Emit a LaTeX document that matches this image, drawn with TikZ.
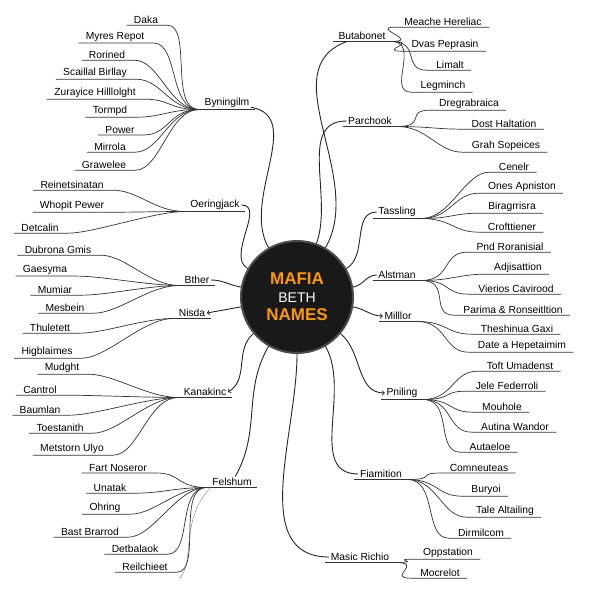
\documentclass[tikz,border=0pt]{standalone}
\usepackage{fontspec}
\setmainfont{Liberation Sans}
\begin{document}
\begin{tikzpicture}[x=1pt,y=-1pt,
  leaf/.style={inner sep=1.2pt,font=\fontsize{10.3}{11}\selectfont},
  br/.style={inner sep=1.5pt,font=\fontsize{10.3}{11}\selectfont},
  con/.style={line width=0.9pt,black!85},
  lc/.style={line width=0.7pt,black!80}]
\useasboundingbox (0,0) rectangle (600,600);
\fill[white] (0,0) rectangle (600,600);
% branches
\foreach \n/\t/\x/\y in {b1/Byningilm/227/103,b2/Oeringjack/215/205,b3/Bther/197/280,b4/Nisda/192/313,b5/Kanakinc/205/392,b6/Felshum/232/482,
  r1/Butabonet/362/36,r2/Parchook/370/121,r3/Tassling/397/212,r4/Alstman/397/275,r5/Milllor/398/316,r6/Pniling/402/393,r7/Fiamition/381/474,r8/Masic Richio/360/557}
  {\node[br] (\n) at (\x,\y) {\t}; \draw[lc] ([xshift=-4pt]\n.south west)--([xshift=4pt]\n.south east);}
\node[circle,fill=black!90,draw=black!70,line width=2pt,minimum size=112pt,inner sep=0pt,align=center,font=\bfseries\fontsize{17}{19}\selectfont] (c) at (297,297)
 {\textcolor{orange!80!yellow}{MAFIA}\\[-1pt]{\color{white}\mdseries\fontsize{14}{16}\selectfont BETH}\\[-1pt]\textcolor{orange!80!yellow}{NAMES}};
% center connectors
\foreach \n/\o/\i in {b1/120/-10,b2/150/0,b3/170/0,b6/240/60,r1/60/200,r2/70/180,r3/30/180,r4/10/180,r7/300/180,r8/270/180}
   {\draw[con] (c) to[out=\o,in=\i] (\n);}
\draw[con,->] (c) to[out=190,in=10] (b4.east);
\draw[con,->] (c) to[out=220,in=30] (b5.east);
\draw[con,->] (c) to[out=350,in=180] (r5.west);
\draw[con,->] (c) to[out=320,in=180] (r6.west);
\draw[gray,->] (b6.south west) .. controls (180,520) and (195,560) .. (180,578);
% left leaves
\foreach \t/\x/\y/\b in {Daka/146/20/b1,Myres Repot/115/37/b1,Rorined/107/55/b1,Scaillal Birllay/95/73/b1,Zurayice Hilllolght/95/93/b1,Tormpd/110/111/b1,Power/120/130/b1,Mirrola/110/147/b1,Grawelee/104/165/b1,
 Reinetsinatan/72/185/b2,Whopit Pewer/72/206/b2,Detcalin/40/228/b2,Dubrona Gmis/58/250/b3,Gaesyma/45/270/b3,Mumiar/55/290/b3,Mesbein/65/308/b3,Thuletett/50/328/b4,Higblaimes/47/352/b4,
 Mudght/62/368/b5,Cantrol/40/390/b5,Baumlan/40/410/b5,Toestanith/60/428/b5,Metstorn Ulyo/72/449/b5,Fart Noseror/118/468/b6,Unatak/110/488/b6,Ohring/105/508/b6,Bast Brarrod/90/532/b6,Detbalaok/135/549/b6,Reilchieet/145/567/b6}
 {\node[leaf] (L) at (\x,\y) {\t};
  \draw[lc] ([xshift=-6pt]L.south west)--([xshift=8pt]L.south east) .. controls +(25,0) and +(-30,0) .. ([xshift=-4pt]\b.south west);}
% right leaves
\foreach \t/\x/\y/\b in {Meache Hereliac/443/22/r1,Dvas Peprasin/445/45/r1,Limalt/450/65/r1,Legminch/443/86/r1,Dregrabraica/469/104/r2,Dost Haltation/504/124/r2,Grah Sopeices/506/146/r2,
 Cenelr/514/167/r3,Ones Apniston/522/187/r3,Biragrrisra/512/207/r3,Crofttiener/512/227/r3,Pnd Roranisial/510/247/r4,Adjisattion/518/268/r4,Vierios Cavirood/516/289/r4,Parima \& Ronseitltion/513/310/r4,
 Theshinua Gaxi/517/329/r5,Date a Hepetaimim/522/346/r5,Toft Umadenst/520/366/r6,Jele Federroli/507/386/r6,Mouhole/502/407/r6,Autina Wandor/515/427/r6,Autaeloe/490/447/r6,
 Comneuteas/479/468/r7,Buryoi/486/490/r7,Tale Altailing/505/511/r7,Dirmilcom/481/533/r7,Oppstation/448/553/r8,Mocrelot/440/573/r8}
 {\node[leaf] (R) at (\x,\y) {\t};
  \draw[lc] ([xshift=6pt]R.south east)--([xshift=-8pt]R.south west) .. controls +(-25,0) and +(30,0) .. ([xshift=4pt]\b.south east);}
\end{tikzpicture}
\end{document}
